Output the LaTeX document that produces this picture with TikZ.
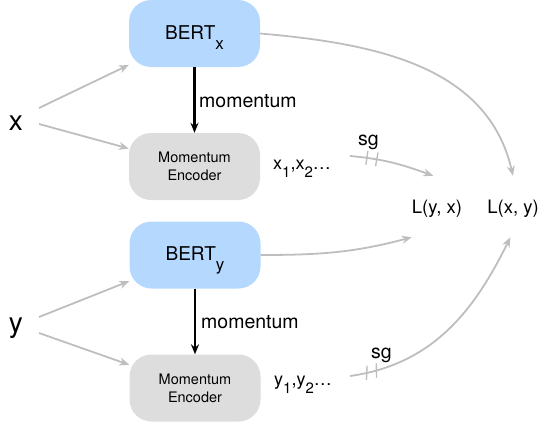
\documentclass[tikz,border=0pt]{standalone}
\usepackage{fontspec}
\setmainfont{TeX Gyre Heros}
\usetikzlibrary{arrows.meta,decorations.markings}
\definecolor{bertblue}{RGB}{181,216,255}
\definecolor{encgray}{RGB}{221,221,221}
\definecolor{linkgray}{RGB}{190,190,190}
\newcommand{\fsz}[1]{\fontsize{#1}{#1}\selectfont}

\begin{document}
\begin{tikzpicture}[x=1pt,y=1pt,
  box/.style={rectangle, rounded corners=22pt, minimum width=131pt,
    minimum height=67pt, inner sep=0pt},
  bertbox/.style={box, fill=bertblue, font=\fsz{19}, text height=16pt, text depth=5pt},
  encbox/.style={box, fill=encgray, font=\fontsize{14.5}{18}\selectfont, align=center},
  link/.style={draw=linkgray, line width=1.8pt, -{Stealth[length=10pt,width=8pt]}},
  push/.style={draw=black, line width=2.2pt, -{Stealth[length=10pt,width=8pt]}},
  cut/.style={-, draw=linkgray, line width=1.4pt},
  sgtop/.style={postaction={decorate}, decoration={markings,
    mark=at position 17pt with {\draw[cut] (0,-7) -- (0,7);},
    mark=at position 27pt with {\draw[cut] (0,-7) -- (0,7);}}},
  sgbot/.style={postaction={decorate}, decoration={markings,
    mark=at position 17pt with {\draw[cut] (-1.9,-7) -- (1.9,7);},
    mark=at position 27pt with {\draw[cut] (-1.9,-7) -- (1.9,7);}}},
  inlabel/.style={font=\fsz{28}, inner sep=0pt, anchor=base},
  txt/.style={font=\fsz{19.5}, inner sep=0pt},
  loss/.style={font=\fsz{18.5}, inner xsep=0pt, inner ysep=0pt, anchor=base,
    text height=37pt, text depth=24pt}
]
\useasboundingbox (0,0) rectangle (541,-423);

% encoders
\node[bertbox] (bx) at (194.5,-33.5) {BERT\raisebox{-10pt}{\fsz{17}x}};
\node[encbox]  (mx) at (194.5,-166.5) {Momentum\\Encoder};
\node[bertbox] (by) at (195,-255) {BERT\raisebox{-10pt}{\fsz{17}y}};
\node[encbox]  (my) at (195,-388) {Momentum\\Encoder};

% inputs
\node[inlabel] (xl) at (16,-130) {x};
\node[inlabel] (yl) at (16,-332) {y};
\coordinate (xa) at (39,-108);
\coordinate (xb) at (39,-124);
\coordinate (ya) at (39,-317);
\coordinate (yb) at (39,-333);

% momentum encoder outputs
\node[anchor=base west, font=\fsz{18}, inner sep=0pt] (x1) at (273,-169)
  {x\raisebox{-8pt}{\fsz{15}1},x\raisebox{-8pt}{\fsz{15}2}…};
\node[anchor=base west, font=\fsz{18}, inner sep=0pt] (y1) at (274,-385)
  {y\raisebox{-8pt}{\fsz{15}1},y\raisebox{-8pt}{\fsz{15}2}…};
\coordinate (x1s) at (350,-156);
\coordinate (y1s) at (350,-376);

% losses
\node[loss] (lyx) at (437,-213) {L(y, x)};
\node[loss] (lxy) at (513,-213) {L(x, y)};

% input edges
\draw[link] (xa) -- (bx);
\draw[link] (xb) -- (mx);
\draw[link] (ya) -- (by);
\draw[link] (yb) -- (my);

% momentum updates
\draw[push] (bx) -- (mx);
\draw[push] (by) -- (my);
\node[txt, anchor=base west] (mlx) at (199,-107) {momentum};
\node[txt, anchor=base west] (mly) at (201,-328) {momentum};

% to the losses
\draw[link] (bx.east) to[out=-5, in=103] (lxy.north);
\draw[link] (by.east) to[out=0, in=-165] (lyx.south west);
\draw[link, sgtop] (x1s) to[out=-5, in=160] (lyx.97);
\draw[link, sgbot] (y1s) to[out=8, in=-116] (lxy.-95);
\node[txt, anchor=base] (sgx) at (368.5,-145) {sg};
\node[txt, anchor=base] (sgy) at (381.5,-358) {sg};
\end{tikzpicture}
\end{document}
